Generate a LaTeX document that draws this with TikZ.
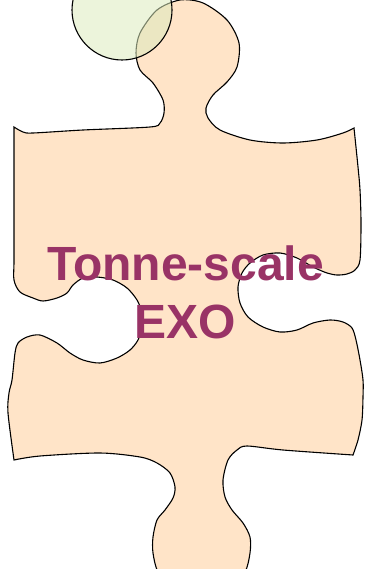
\documentclass[tikz,border=0pt]{standalone}
\usepackage{fontspec}
\setmainfont{Liberation Sans}
\usetikzlibrary{positioning}

\definecolor{piecefill}{RGB}{255,228,200}
\definecolor{bubblefill}{RGB}{220,235,190}
\definecolor{titlecol}{RGB}{153,51,102}

\begin{document}
\begin{tikzpicture}[
    x=1pt, y=-1pt,
    piece/.style={draw=black, line width=1.1pt, fill=piecefill},
    bubble/.style={draw=black, line width=1.1pt, fill=bubblefill, fill opacity=0.55},
    title/.style={text=titlecol, font=\fontsize{48}{58}\selectfont\bfseries, inner sep=0pt}
]

% Frame
\clip (0,0) rectangle (366,569);

% Puzzle piece
\draw[piece]
  plot[smooth, tension=0.5] coordinates {(14,127) (23,132) (33,133) (83,130) (150,127) (160,123) (164,113) (163,100) (153,83) (140,70) (136,53) (140,33) (157,10) (180,0) (203,3) (227,20) (239,43) (237,67) (227,82) (213,95) (206,108) (208,118) (220,130) (250,140) (283,143) (317,140) (343,133) (354,128)}
  -- plot[smooth, tension=0.5] coordinates {(354,128) (358,167) (360,190) (361,223) (360,260) (355,270) (347,274) (337,275) (327,273) (313,267) (297,258) (280,253) (263,255) (250,263) (242,273) (238,287) (240,303) (248,317) (263,327) (280,332) (297,330) (313,323) (330,320) (343,322) (352,328) (356,340) (360,360) (363,380) (363,397) (362,420) (358,440) (353,455)}
  -- plot[smooth, tension=0.5] coordinates {(353,455) (283,450) (247,446) (237,450) (228,460) (223,480) (225,497) (232,510) (243,523) (250,537) (250,553) (245,572) (230,587) (201,593) (172,587) (158,572) (153,553) (153,537) (157,520) (165,510) (173,498) (175,487) (170,473) (157,463) (140,457) (100,453) (40,456) (14,460)}
  -- plot[smooth, tension=0.5] coordinates {(14,460) (8,413) (9,393) (12,380) (15,353) (18,343) (27,337) (40,335) (57,343) (70,353) (83,360) (100,363) (117,358) (130,350) (138,340) (142,327) (142,313) (137,300) (127,288) (113,280) (97,277) (83,278) (73,285) (67,293) (57,298) (43,301) (33,298) (20,292) (14,280) (14,260) (14,200) (14,127)}
  -- cycle;

% Overlapping circle
\draw[bubble] (122,10) circle[radius=50];

% Title
\node[title, anchor=base] (tonne) at (185.5,280) {Tonne-scale};
\node[title, anchor=base] (exo) at (185,338) {EXO};

\end{tikzpicture}
\end{document}
